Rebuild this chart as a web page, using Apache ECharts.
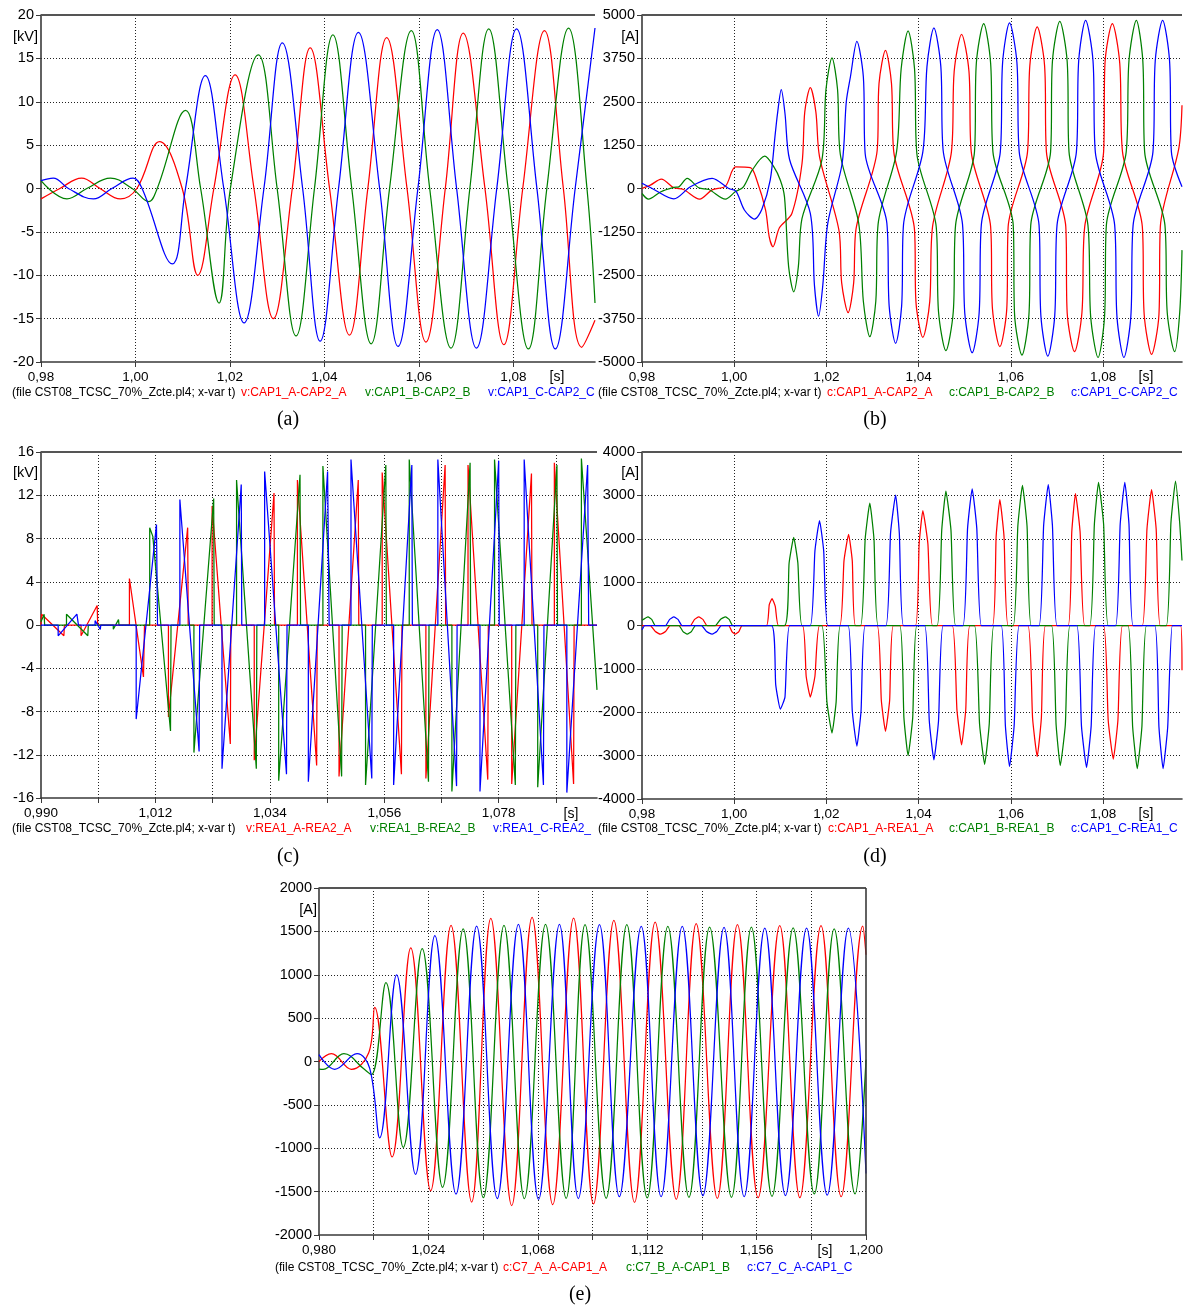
<!DOCTYPE html>
<html><head><meta charset="utf-8">
<script src="https://cdn.jsdelivr.net/npm/echarts@6/dist/echarts.min.js"></script>
<style>html,body{margin:0;padding:0;background:#fff}#c{width:1186px;height:1308px}</style>
</head><body><div id="c"></div>
<script>
// ---------- (a) capacitor voltage [kV] ----------
const aXTicks = [0.98, 1.00, 1.02, 1.04, 1.06, 1.08];
const aRed = [[0.980,-1.2],[0.984,0],[0.9886,1.2],[0.9925,0],[0.9968,-1.2],[1.0003,0],[1.0051,5.4],[1.0099,0],[1.0132,-10.0],[1.0166,0],[1.0211,13.1],[1.0251,0],[1.0292,-15.0],[1.0332,0],[1.0370,16.2],[1.0411,0],[1.0453,-16.9],[1.0492,0],[1.0532,17.4],[1.0575,0],[1.0615,-17.7],[1.0656,0],[1.0694,17.9],[1.0740,0],[1.0780,-18.0],[1.0820,0],[1.0866,18.2],[1.0906,0],[1.0945,-18.3],[1.0973,-15.2]];
const aGreen = [[0.980,0.9],[0.9855,-1.2],[0.9897,0],[0.9947,1.2],[0.9993,0],[1.0028,-1.5],[1.0046,0],[1.0106,9.0],[1.0138,0],[1.0177,-13.2],[1.0201,0],[1.0260,15.4],[1.0300,0],[1.0340,-17.0],[1.0379,0],[1.0418,17.7],[1.0458,0],[1.0499,-17.9],[1.0538,0],[1.0584,18.2],[1.0623,0],[1.0668,-18.4],[1.0708,0],[1.0748,18.4],[1.0789,0],[1.0832,-18.5],[1.0871,0],[1.0917,18.5],[1.0956,0],[1.0973,-13.2]];
const aBlue = [[0.980,0.9],[0.9826,1.2],[0.9858,0],[0.9911,-1.2],[0.9950,0],[0.9995,1.2],[1.0014,0],[1.0078,-8.7],[1.0106,0],[1.0148,13.0],[1.0187,0],[1.0230,-15.5],[1.0272,0],[1.0311,16.8],[1.0354,0],[1.0391,-17.6],[1.0430,0],[1.0472,18.0],[1.0517,0],[1.0556,-18.2],[1.0598,0],[1.0639,18.3],[1.0680,0],[1.0722,-18.4],[1.0765,0],[1.0807,18.4],[1.0850,0],[1.0889,-18.5],[1.0931,0],[1.0973,18.5]];

// ---------- (b) capacitor current [A] ----------
const bXTicks = [0.98, 1.00, 1.02, 1.04, 1.06, 1.08];
const bRed = [[0.980,0],[0.9818,96],[0.9842,270],[0.9869,20],[0.9890,-30],[0.9925,-307],[0.9952,-40],[0.9981,67],[1.0003,620],[1.0035,600],[1.0049,240],[1.0068,-624],[1.0076,-1400],[1.0084,-1680],[1.0098,-1133],[1.0125,-720],[1.0147,720],[1.0153,2210],[1.0165,2910],[1.0177,2210],[1.0185,912],[1.0227,-1200],[1.0233,-2720],[1.0247,-3580],[1.0259,-2720],[1.0264,-1180],[1.0310,1104],[1.0314,3030],[1.0328,3984],[1.0341,3030],[1.0346,1056],[1.0391,-1200],[1.0394,-3260],[1.0409,-4291],[1.0424,-3260],[1.0430,-1104],[1.0471,1056],[1.0477,3380],[1.0493,4445],[1.0509,3380],[1.0514,1056],[1.0556,-1104],[1.0560,-3470],[1.0576,-4560],[1.0591,-3470],[1.0594,-1104],[1.0636,1056],[1.0641,3540],[1.0657,4656],[1.0673,3540],[1.0677,1056],[1.0719,-1104],[1.0722,-3580],[1.0738,-4704],[1.0754,-3580],[1.0760,-1104],[1.0801,1056],[1.0804,3610],[1.0820,4752],[1.0836,3610],[1.0842,1056],[1.0885,-1104],[1.0889,-3630],[1.0905,-4781],[1.0921,-3630],[1.0924,-1104],[1.0964,1150],[1.0971,2400]];
const bGreen = [[0.980,-144],[0.9814,-307],[0.9840,-100],[0.9869,30],[0.9880,48],[0.9898,290],[0.9923,20],[0.9945,-30],[0.9981,-307],[1.0002,-96],[1.0020,50],[1.0039,528],[1.0066,930],[1.0086,624],[1.0100,240],[1.0109,-240],[1.0118,-2260],[1.0129,-2976],[1.0139,-2260],[1.0147,-864],[1.0190,816],[1.0199,2860],[1.0212,3763],[1.0224,2860],[1.0230,988],[1.0270,-1008],[1.0280,-3250],[1.0294,-4272],[1.0307,-3250],[1.0312,-1027],[1.0352,1056],[1.0362,3450],[1.0377,4541],[1.0391,3450],[1.0396,1010],[1.0438,-1104],[1.0443,-3550],[1.0459,-4675],[1.0475,-3550],[1.0480,-1056],[1.0521,1056],[1.0525,3610],[1.0541,4752],[1.0556,3610],[1.0561,1056],[1.0605,-1056],[1.0608,-3650],[1.0624,-4800],[1.0639,-3650],[1.0643,-1056],[1.0686,1056],[1.0690,3660],[1.0706,4819],[1.0722,3660],[1.0726,1056],[1.0767,-1056],[1.0773,-3700],[1.0789,-4867],[1.0803,-3700],[1.0807,-1056],[1.0850,1056],[1.0856,3680],[1.0872,4848],[1.0886,3680],[1.0890,1056],[1.0934,-1056],[1.0939,-3580],[1.0955,-4704],[1.0966,-3580],[1.0971,-1776]];
const bBlue = [[0.980,150],[0.9822,0],[0.9869,-300],[0.9905,50],[0.9952,290],[0.9988,0],[1.0004,-80],[1.0022,-620],[1.0044,-880],[1.0060,-600],[1.0078,240],[1.0089,1580],[1.0094,2170],[1.0102,2850],[1.0110,2170],[1.0120,835],[1.0165,-720],[1.0174,-2800],[1.0183,-3680],[1.0192,-2800],[1.0203,-990],[1.0234,720],[1.0243,2500],[1.0252,3220],[1.0266,4240],[1.0280,3220],[1.0284,1000],[1.0331,-1000],[1.0336,-3390],[1.0350,-4464],[1.0363,-3390],[1.0367,-1056],[1.0409,1056],[1.0418,3520],[1.0433,4627],[1.0448,3520],[1.0453,1104],[1.0495,-1027],[1.0500,-3600],[1.0516,-4733],[1.0531,-3600],[1.0536,-1027],[1.0577,1056],[1.0582,3630],[1.0597,4771],[1.0613,3630],[1.0618,1056],[1.0661,-1056],[1.0665,-3670],[1.0680,-4829],[1.0695,-3670],[1.0700,-1056],[1.0742,1056],[1.0747,3680],[1.0762,4848],[1.0778,3680],[1.0783,1056],[1.0825,-1056],[1.0830,-3700],[1.0845,-4867],[1.0860,-3700],[1.0865,-1056],[1.0908,1056],[1.0913,3680],[1.0929,4848],[1.0944,3680],[1.0948,1056],[1.0971,48]];

// ---------- (c) reactor voltage [kV] ----------
const cXTicks = [0.990, 1.012, 1.034, 1.056, 1.078];
const cRed = [[0.990,0],[0.9901,0],[0.9901,1.0],[0.9944,-1.0],[0.9945,0],[0.9977,0],[0.9977,-1.0],[1.0008,1.8],[1.0009,0],[1.0070,0],[1.0070,4.3],[1.0097,-4.8],[1.0099,0],[1.0145,0],[1.0145,-8.5],[1.0182,9.0],[1.0183,0],[1.0229,0],[1.0229,11.0],[1.0264,-11.0],[1.0265,0],[1.0310,0],[1.0310,-12.5],[1.0348,12.2],[1.0349,0],[1.0393,0],[1.0393,13.4],[1.0430,-13.0],[1.0431,0],[1.0473,0],[1.0473,-14.0],[1.0510,13.4],[1.0511,0],[1.0556,0],[1.0556,14.1],[1.0593,-13.8],[1.0594,0],[1.0640,0],[1.0640,-14.2],[1.0677,14.8],[1.0678,0],[1.0721,0],[1.0721,14.8],[1.0759,-14.3],[1.0760,0],[1.0805,0],[1.0805,-14.7],[1.0843,14.0],[1.0844,0],[1.0887,0],[1.0887,15.0],[1.0924,-14.7],[1.0925,0],[1.0969,0]];
const cGreen = [[0.990,0.3],[0.9906,1.0],[0.9907,0],[0.9949,0],[0.9949,1.0],[0.9990,-1.0],[0.9991,0],[1.0039,0],[1.0039,-0.4],[1.0049,0.5],[1.0050,0],[1.0109,0],[1.0109,9.0],[1.0115,8.2],[1.0149,-9.8],[1.0150,0],[1.0194,0],[1.0194,-11.8],[1.0232,11.7],[1.0233,0],[1.0276,0],[1.0276,13.4],[1.0314,-13.3],[1.0315,0],[1.0357,0],[1.0357,-14.4],[1.0398,13.9],[1.0399,0],[1.0442,0],[1.0442,14.7],[1.0478,-14.0],[1.0479,0],[1.0524,0],[1.0524,-14.8],[1.0563,14.8],[1.0564,0],[1.0608,0],[1.0608,15.3],[1.0645,-14.5],[1.0646,0],[1.0690,0],[1.0690,-15.4],[1.0725,15.0],[1.0726,0],[1.0772,0],[1.0772,15.3],[1.0812,-14.8],[1.0813,0],[1.0855,0],[1.0855,-15.0],[1.0892,14.8],[1.0893,0],[1.0939,0],[1.0939,15.4],[1.0969,-6.0]];
const cBlue = [[0.990,0],[0.9933,0],[0.9933,-1.0],[0.9969,1.0],[0.9972,0],[1.0004,0],[1.0004,0.4],[1.0014,-0.4],[1.0015,0],[1.0083,0],[1.0083,-8.7],[1.0122,9.3],[1.0124,0],[1.0167,0],[1.0167,11.6],[1.0204,-11.7],[1.0205,0],[1.0248,0],[1.0248,-13.3],[1.0285,13.0],[1.0286,0],[1.0330,0],[1.0330,14.2],[1.0372,-13.8],[1.0373,0],[1.0414,0],[1.0414,-14.5],[1.0451,14.2],[1.0454,0],[1.0496,0],[1.0496,15.3],[1.0536,-14.2],[1.0537,0],[1.0578,0],[1.0578,-14.8],[1.0613,14.8],[1.0614,0],[1.0663,0],[1.0663,15.3],[1.0699,-14.9],[1.0700,0],[1.0744,0],[1.0744,-15.4],[1.0780,15.2],[1.0781,0],[1.0829,0],[1.0829,15.3],[1.0866,-14.8],[1.0867,0],[1.0911,0],[1.0911,-15.5],[1.0951,14.8],[1.0953,0],[1.0969,0]];

// ---------- (d) reactor current [A] ----------
const dXTicks = [0.98, 1.00, 1.02, 1.04, 1.06, 1.08];
const dRed = [[0.980,0],[0.9818,0],[0.9829,-140],[0.9840,-200],[0.9851,-140],[0.9861,0],[0.9905,0],[0.9914,140],[0.9923,200],[0.9932,140],[0.9941,0],[0.9988,0],[0.9995,-140],[1.0002,-200],[1.0010,-140],[1.0017,0],[1.0070,0],[1.0076,480],[1.0082,620],[1.0089,440],[1.0096,0],[1.0148,0],[1.0156,-1170],[1.0165,-1650],[1.0175,-1170],[1.0185,0],[1.0229,0],[1.0238,1490],[1.0248,2100],[1.0256,1490],[1.0263,0],[1.0310,0],[1.0319,-1730],[1.0328,-2440],[1.0337,-1730],[1.0345,0],[1.0393,0],[1.0401,1880],[1.0409,2650],[1.0420,1880],[1.0430,0],[1.0473,0],[1.0483,-1950],[1.0493,-2750],[1.0502,-1950],[1.0511,0],[1.0560,0],[1.0568,2060],[1.0576,2900],[1.0585,2060],[1.0594,0],[1.0637,0],[1.0647,-2140],[1.0657,-3020],[1.0666,-2140],[1.0675,0],[1.0724,0],[1.0732,2160],[1.0740,3040],[1.0750,2160],[1.0760,0],[1.0801,0],[1.0811,-2190],[1.0822,-3080],[1.0832,-2190],[1.0842,0],[1.0885,0],[1.0895,2220],[1.0905,3130],[1.0915,2220],[1.0924,0],[1.0968,0],[1.0971,-1030]];
const dGreen = [[0.980,120],[0.9813,200],[0.9821,140],[0.9829,0],[0.9880,0],[0.9889,-140],[0.9898,-200],[0.9907,-140],[0.9916,0],[0.9959,0],[0.9970,140],[0.9981,200],[0.9989,140],[0.9997,0],[1.0109,0],[1.0119,1440],[1.0129,2030],[1.0138,1440],[1.0147,0],[1.0190,0],[1.0201,-1760],[1.0212,-2480],[1.0221,-1760],[1.0230,0],[1.0274,0],[1.0284,2000],[1.0294,2820],[1.0303,2000],[1.0312,0],[1.0359,0],[1.0368,-2130],[1.0377,-3000],[1.0387,-2130],[1.0396,0],[1.0440,0],[1.0450,2200],[1.0459,3100],[1.0470,2200],[1.0480,0],[1.0521,0],[1.0532,-2270],[1.0543,-3200],[1.0553,-2270],[1.0563,0],[1.0605,0],[1.0615,2290],[1.0625,3230],[1.0635,2290],[1.0644,0],[1.0688,0],[1.0698,-2290],[1.0707,-3230],[1.0718,-2290],[1.0728,0],[1.0771,0],[1.0781,2340],[1.0790,3300],[1.0801,2340],[1.0811,0],[1.0854,0],[1.0864,-2340],[1.0874,-3300],[1.0884,-2340],[1.0894,0],[1.0937,0],[1.0947,2370],[1.0957,3330],[1.0966,2370],[1.0971,1500]];
const dBlue = [[0.980,-100],[0.9806,0],[0.9851,0],[0.9860,140],[0.9869,200],[0.9878,140],[0.9887,0],[0.9929,0],[0.9940,-140],[0.9952,-200],[0.9962,-140],[0.9972,0],[1.0081,0],[1.0090,-1370],[1.0100,-1930],[1.0110,-1650],[1.0120,0],[1.0165,0],[1.0175,1720],[1.0185,2420],[1.0194,1720],[1.0203,0],[1.0247,0],[1.0256,-1970],[1.0266,-2780],[1.0275,-1970],[1.0284,0],[1.0329,0],[1.0339,2130],[1.0350,3007],[1.0358,2130],[1.0367,0],[1.0413,0],[1.0423,-2200],[1.0433,-3100],[1.0443,-2200],[1.0453,0],[1.0496,0],[1.0506,2240],[1.0516,3150],[1.0526,2240],[1.0536,0],[1.0579,0],[1.0588,-2310],[1.0597,-3250],[1.0607,-2310],[1.0618,0],[1.0661,0],[1.0671,2310],[1.0681,3250],[1.0690,2310],[1.0700,0],[1.0743,0],[1.0753,-2320],[1.0764,-3270],[1.0774,-2320],[1.0784,0],[1.0827,0],[1.0837,2340],[1.0847,3300],[1.0856,2340],[1.0865,0],[1.0912,0],[1.0921,-2340],[1.0930,-3300],[1.0940,-2340],[1.0950,0],[1.0971,0]];

// ---------- (e) line current [A] ----------
const eXTicks = [0.980, 1.024, 1.068, 1.112, 1.156, 1.200];
const eRed = [[0.980,0],[0.985,90],[0.993,-90],[1.0000,100],[1.0024,625],[1.0094,-1100],[1.0169,1310],[1.0249,-1490],[1.0331,1570],[1.0414,-1620],[1.0491,1650],[1.0575,-1660],[1.0657,1660],[1.0740,-1650],[1.0824,1654],[1.0904,-1642],[1.0986,1627],[1.1069,-1623],[1.1152,1608],[1.1237,-1588],[1.1317,1588],[1.1402,-1577],[1.1483,1577],[1.1566,-1570],[1.1653,1565],[1.1734,-1570],[1.1819,1565],[1.1900,-1558],[1.1987,1560],[1.2000,1230]];
const eGreen = [[0.980,-88],[0.9817,-92],[0.990,90],[0.9980,-85],[1.0011,-150],[1.0069,910],[1.0139,-990],[1.0215,1300],[1.0297,-1450],[1.0380,1530],[1.0461,-1570],[1.0544,1570],[1.0626,-1580],[1.0711,1580],[1.0794,-1577],[1.0870,1577],[1.0955,-1577],[1.1038,1577],[1.1120,-1573],[1.1203,1558],[1.1288,-1565],[1.1371,1550],[1.1459,-1565],[1.1539,1550],[1.1622,-1554],[1.1707,1540],[1.1792,-1527],[1.1872,1530],[1.1956,-1527],[1.2000,20]];
const eBlue = [[0.980,80],[0.9863,-90],[0.9953,90],[1.0004,-80],[1.0044,-880],[1.0112,1000],[1.0188,-1300],[1.0266,1450],[1.0351,-1530],[1.0434,1560],[1.0517,-1580],[1.0602,1580],[1.0683,-1590],[1.0767,1580],[1.0843,-1580],[1.0928,1577],[1.1008,-1558],[1.1096,1558],[1.1176,-1558],[1.1261,1558],[1.1344,-1546],[1.1429,1546],[1.1510,-1558],[1.1593,1538],[1.1676,-1546],[1.1761,1538],[1.1844,-1540],[1.1929,1538],[1.2000,-1290]];

// ---------- texts ----------
const fileText = '(file CST08_TCSC_70%_Zcte.pl4; x-var t)';
const aNames = ['v:CAP1_A-CAP2_A', 'v:CAP1_B-CAP2_B', 'v:CAP1_C-CAP2_C'];
const bNames = ['c:CAP1_A-CAP2_A', 'c:CAP1_B-CAP2_B', 'c:CAP1_C-CAP2_C'];
const cNames = ['v:REA1_A-REA2_A', 'v:REA1_B-REA2_B', 'v:REA1_C-REA2_'];
const dNames = ['c:CAP1_A-REA1_A', 'c:CAP1_B-REA1_B', 'c:CAP1_C-REA1_C'];
const eNames = ['c:C7_A_A-CAP1_A', 'c:C7_B_A-CAP1_B', 'c:C7_C_A-CAP1_C'];
const captions = ['(a)', '(b)', '(c)', '(d)', '(e)'];

const COLORS = ['#ff0000', '#008000', '#0000ff'];
const FONT = '"Liberation Sans", Arial, Helvetica, sans-serif';
const SERIF = '"Liberation Serif", "Times New Roman", serif';

const panels = [
  { grid:{left:41, top:15, width:554, height:347}, xr:[0.98,1.0973,0.02], ticks:aXTicks, dec:2, yr:[-20,20,5], unit:'[kV]', data:[aRed,aGreen,aBlue], smooth:0.4, names:aNames,
    unitPos:[38,37], sPos:[557,377], rowY:393, fileX:12, nameX:[241,365,488], cap:[288,420], rightLine:false },
  { grid:{left:642, top:15, width:540, height:347}, xr:[0.98,1.0971,0.02], ticks:bXTicks, dec:2, yr:[-5000,5000,1250], unit:'[A]', data:[bRed,bGreen,bBlue], smooth:0.3, names:bNames,
    unitPos:[639,37], sPos:[1146,377], rowY:393, fileX:598, nameX:[827,949,1071], cap:[875,420], rightLine:false },
  { grid:{left:41, top:452, width:556, height:346}, xr:[0.99,1.0969,0.011], ticks:cXTicks, dec:3, yr:[-16,16,4], unit:'[kV]', data:[cRed,cGreen,cBlue], smooth:false, names:cNames,
    unitPos:[38,473], sPos:[571,814], rowY:829, fileX:12, nameX:[246,370,493], cap:[288,857], rightLine:false },
  { grid:{left:642, top:452, width:540, height:347}, xr:[0.98,1.0971,0.02], ticks:dXTicks, dec:2, yr:[-4000,4000,1000], unit:'[A]', data:[dRed,dGreen,dBlue], smooth:0.15, names:dNames,
    unitPos:[639,473], sPos:[1146,814], rowY:829, fileX:598, nameX:[828,949,1071], cap:[875,857], rightLine:false },
  { grid:{left:319, top:888, width:547, height:347}, xr:[0.98,1.2,0.022], ticks:eXTicks, dec:3, yr:[-2000,2000,500], unit:'[A]', data:[eRed,eGreen,eBlue], smooth:0.4, names:eNames,
    unitPos:[317,910], sPos:[825,1251], rowY:1268, fileX:275, nameX:[503,626,747], cap:[580,1295], rightLine:true }
];

function xFmt(ticks, dec) {
  return function (v) {
    for (const t of ticks) if (Math.abs(v - t) < 1e-6) return t.toFixed(dec).replace('.', ',');
    return '';
  };
}
function txt(x, y, s, color, font, align) {
  return { type:'text', x:x, y:y, silent:true, z:100,
    style:{ text:s, fill:color, font:font, textAlign:align || 'left', textVerticalAlign:'middle' } };
}

const option = { animation:false, backgroundColor:'#fff', grid:[], xAxis:[], yAxis:[], series:[], graphic:{elements:[]} };
const G = option.graphic.elements;

panels.forEach((p, i) => {
  option.grid.push(Object.assign({ outerBoundsMode:'none', containLabel:false, show:false }, p.grid));
  option.xAxis.push({
    type:'value', gridIndex:i, min:p.xr[0], max:p.xr[1], interval:p.xr[2],
    axisLine:{ show:true, onZero:false, lineStyle:{ color:'#3a3a3a', width:1.6 } },
    axisTick:{ show:true, length:5, lineStyle:{ color:'#3a3a3a', width:1 } },
    axisLabel:{ show:true, margin:8, color:'#000', fontFamily:FONT, fontSize:13.5, formatter:xFmt(p.ticks, p.dec), showMinLabel:true, showMaxLabel:i===4, hideOverlap:false },
    splitLine:{ show:true, showMinLine:false, showMaxLine:false, lineStyle:{ color:'#222', type:[1,2], width:1 } }
  });
  option.yAxis.push({
    type:'value', gridIndex:i, min:p.yr[0], max:p.yr[1], interval:p.yr[2],
    axisLine:{ show:true, onZero:false, lineStyle:{ color:'#3a3a3a', width:1.6 } },
    axisTick:{ show:true, length:5, lineStyle:{ color:'#3a3a3a', width:1 } },
    axisLabel:{ show:true, margin:7, color:'#000', fontFamily:FONT, fontSize:14.5, formatter: v => String(Math.round(v)) },
    splitLine:{ show:true, showMinLine:false, showMaxLine:false, lineStyle:{ color:'#222', type:[1,2], width:1 } }
  });
  p.data.forEach((d, k) => {
    option.series.push({
      type:'line', xAxisIndex:i, yAxisIndex:i, data:d, showSymbol:false, symbol:'none',
      smooth:p.smooth, clip:true, lineStyle:{ color:COLORS[k], width:1.25 }, itemStyle:{ color:COLORS[k] },
      emphasis:{ disabled:true }, z:2 + k
    });
  });
  const g = p.grid;
  G.push({ type:'line', silent:true, z:90, shape:{ x1:g.left, y1:g.top, x2:g.left + g.width, y2:g.top }, style:{ stroke:'#555', lineWidth:2 } });
  if (p.rightLine) G.push({ type:'line', silent:true, z:90, shape:{ x1:g.left + g.width, y1:g.top, x2:g.left + g.width, y2:g.top + g.height }, style:{ stroke:'#3a3a3a', lineWidth:1.6 } });
  G.push(txt(p.unitPos[0], p.unitPos[1], p.unit, '#000', '14.5px ' + FONT, 'right'));
  G.push(txt(p.sPos[0], p.sPos[1], '[s]', '#000', '14px ' + FONT, 'center'));
  G.push(txt(p.fileX, p.rowY, fileText, '#000', '12px ' + FONT, 'left'));
  p.names.forEach((n, k) => G.push(txt(p.nameX[k], p.rowY, n, COLORS[k], '12px ' + FONT, 'left')));
  G.push(txt(p.cap[0], p.cap[1], captions[i], '#000', '20px ' + SERIF, 'center'));
});

const chart = echarts.init(document.getElementById('c'), null, { renderer:'canvas', width:1186, height:1308 });
chart.setOption(option);
</script></body></html>
